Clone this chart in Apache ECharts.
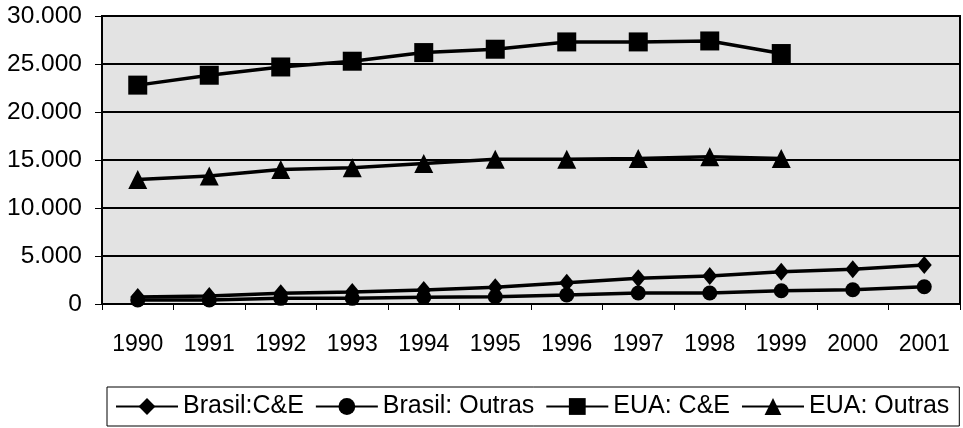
<!DOCTYPE html>
<html>
<head>
<meta charset="utf-8">
<script src="https://cdn.jsdelivr.net/npm/echarts@6/dist/echarts.min.js"></script>
<style>
  html, body { margin: 0; padding: 0; background: #fff; }
  #chart { width: 963px; height: 428px; }
</style>
</head>
<body>
<div id="chart"></div>
<script>
const years = ["1990", "1991", "1992", "1993", "1994", "1995", "1996", "1997", "1998", "1999", "2000", "2001"];
const brasilCE = [730, 830, 1110, 1250, 1460, 1740, 2210, 2670, 2910, 3360, 3610, 4060];
const brasilOutras = [420, 420, 590, 590, 700, 760, 950, 1150, 1150, 1380, 1480, 1800];
const euaCE = [22800, 23830, 24690, 25290, 26190, 26540, 27300, 27300, 27400, 26090, null, null];
const euaOutras = [12980, 13340, 14020, 14200, 14640, 15070, 15070, 15160, 15330, 15160, null, null];

const font = "'Liberation Sans', Arial, sans-serif";

function lineSeries(name, data, symbol, size) {
  return {
    name: name,
    type: "line",
    data: data,
    symbol: symbol,
    symbolSize: size,
    showAllSymbol: true,
    connectNulls: false,
    lineStyle: { color: "#000", width: 3.5 },
    itemStyle: { color: "#000" },
    z: 3
  };
}

const chart = echarts.init(document.getElementById("chart"));
chart.setOption({
  animation: false,
  backgroundColor: "#fff",
  textStyle: { fontFamily: font },
  grid: {
    left: 102,
    right: 3,
    top: 16,
    bottom: 124,
    show: true,
    backgroundColor: "#e3e3e3",
    borderColor: "#000",
    borderWidth: 2
  },
  legend: {
    left: 107,
    top: 387,
    padding: [7, 10, 7, 8],
    itemGap: 11,
    itemWidth: 62,
    itemHeight: 21,
    borderColor: "#000",
    borderWidth: 1,
    textStyle: { fontSize: 25, color: "#000", fontFamily: font },
    data: ["Brasil:C&E", "Brasil: Outras", "EUA: C&E", "EUA: Outras"]
  },
  xAxis: {
    type: "category",
    data: years,
    boundaryGap: true,
    axisLine: { lineStyle: { color: "#000", width: 2 } },
    axisTick: { show: true, length: 6, interval: 0, lineStyle: { color: "#000" } },
    axisLabel: { margin: 29, fontSize: 23, color: "#000", interval: 0 },
    splitLine: { show: false }
  },
  yAxis: {
    type: "value",
    min: 0,
    max: 30000,
    interval: 5000,
    axisLine: { show: true, lineStyle: { color: "#000", width: 2 } },
    axisTick: { show: true, length: 7, lineStyle: { color: "#000" } },
    axisLabel: {
      margin: 20,
      fontSize: 24.5,
      color: "#000",
      formatter: v => v === 0 ? "0" : (v / 1000).toFixed(3)
    },
    splitLine: { lineStyle: { color: "#000", width: 2 } }
  },
  series: [
    lineSeries("Brasil:C&E", brasilCE, "diamond", [15, 18]),
    lineSeries("Brasil: Outras", brasilOutras, "circle", 15),
    lineSeries("EUA: C&E", euaCE, "rect", 19),
    lineSeries("EUA: Outras", euaOutras, "triangle", [19, 19])
  ]
});
</script>
</body>
</html>
